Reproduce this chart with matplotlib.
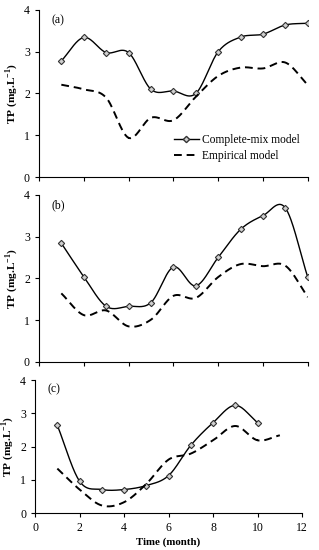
import numpy as np
import matplotlib.pyplot as plt

plt.rcParams['font.family'] = ['Liberation Serif', 'DejaVu Serif']
plt.rcParams['mathtext.fontset'] = 'custom'
plt.rcParams['mathtext.rm'] = 'Liberation Serif'
plt.rcParams['mathtext.bf'] = 'Liberation Serif:bold'

months = list(range(1, 13))
months_c_mix = list(range(1, 11))
months_c_emp = list(range(1, 12))

mix_a = [2.78, 3.34, 2.98, 2.98, 2.10, 2.06, 2.00, 3.00, 3.35, 3.42, 3.64, 3.68]
emp_a = [2.21, 2.10, 1.90, 0.94, 1.42, 1.36, 1.92, 2.42, 2.62, 2.60, 2.74, 2.20]

mix_b = [2.84, 2.04, 1.33, 1.33, 1.42, 2.27, 1.82, 2.50, 3.17, 3.50, 3.68, 2.02]
emp_b = [1.64, 1.12, 1.23, 0.85, 1.01, 1.58, 1.53, 2.03, 2.34, 2.29, 2.30, 1.55]

mix_c = [2.64, 0.96, 0.71, 0.71, 0.83, 1.13, 2.04, 2.72, 3.24, 2.72]
emp_c = [1.34, 0.71, 0.23, 0.33, 0.88, 1.61, 1.79, 2.19, 2.62, 2.19, 2.34]


def smooth(x, y, n=30):
    # catmull-rom curve through the points, like excel's smoothed line
    x = np.asarray(x, float)
    y = np.asarray(y, float)
    px = np.concatenate([[2*x[0]-x[1]], x, [2*x[-1]-x[-2]]])
    py = np.concatenate([[2*y[0]-y[1]], y, [2*y[-1]-y[-2]]])
    xs, ys = [], []
    t = np.linspace(0, 1, n)
    for i in range(1, len(px)-2):
        for p, out in ((px, xs), (py, ys)):
            p0, p1, p2, p3 = p[i-1], p[i], p[i+1], p[i+2]
            out.extend(0.5*((2*p1) + (-p0+p2)*t + (2*p0-5*p1+4*p2-p3)*t**2
                            + (-p0+3*p1-3*p2+p3)*t**3))
    return xs, ys


def draw(ax, xm, ym, xe, ye, tag, xlabels):
    sx, sy = smooth(xm, ym)
    ax.plot(sx, sy, color='black', lw=1.0)
    ax.plot(xm, ym, ls='none', marker='D', ms=3.2, mfc='#d0d0d0', mec='#333333', mew=0.8)
    ex, ey = smooth(xe, ye)
    ax.plot(ex, ey, color='black', lw=1.4, ls=(0, (4, 2.5)))
    ax.set_xlim(0, 12)
    ax.set_ylim(0, 4)
    ax.set_xticks(range(0, 13, 2))
    ax.set_yticks(range(0, 5))
    for s in ('top', 'right'):
        ax.spines[s].set_visible(False)
    ax.tick_params(direction='out', length=3, width=0.8, labelsize=8.5)
    if not xlabels:
        ax.set_xticklabels([])
    ax.set_ylabel(r'TP (mg.L$^{\mathbf{-1}}$)', fontsize=8.2, fontweight='bold', labelpad=3)
    ax.text(0.045, 0.975, tag, transform=ax.transAxes, fontsize=8.5, va='top')


fig = plt.figure(figsize=(3.19, 5.5), dpi=100)
ax1 = fig.add_axes([0.122, 0.678, 0.843, 0.304])
ax2 = fig.add_axes([0.122, 0.342, 0.843, 0.304])
ax3 = fig.add_axes([0.110, 0.067, 0.837, 0.242])

draw(ax1, months, mix_a, months, emp_a, '(a)', False)
draw(ax2, months, mix_b, months, emp_b, '(b)', False)
draw(ax3, months_c_mix, mix_c, months_c_emp, emp_c, '(c)', True)
ax3.set_xlabel('Time (month)', fontsize=7.8, fontweight='bold', labelpad=2)

h1, = ax1.plot([], [], color='black', lw=1.0, marker='D', ms=3.2, mfc='#d0d0d0', mec='#333333')
h2, = ax1.plot([], [], color='black', lw=1.4, ls=(0, (4, 2.5)))
ax1.legend([h1, h2], ['Complete-mix model', 'Empirical model'], loc='lower right',
           bbox_to_anchor=(1.0, 0.04), frameon=False, fontsize=8.3, handlelength=2.2,
           handletextpad=0.25, labelspacing=0.4, borderpad=0.2)

fig.savefig('out.png', dpi=100)
